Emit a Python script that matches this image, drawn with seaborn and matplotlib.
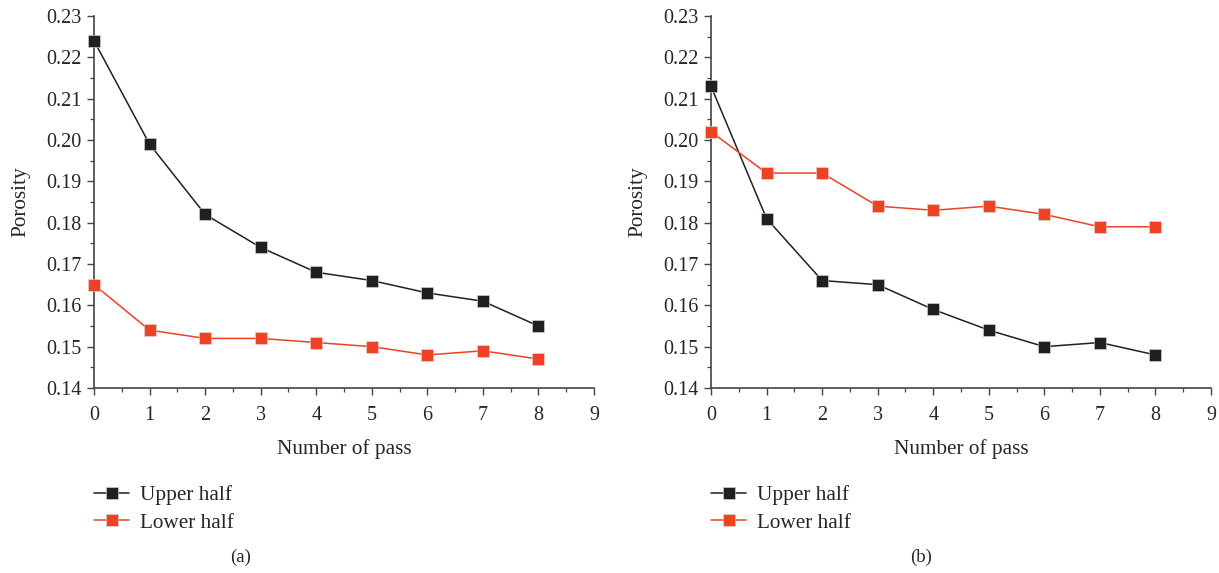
import numpy as np
import pandas as pd
import matplotlib
matplotlib.use("Agg")
import matplotlib.pyplot as plt
from matplotlib.ticker import MultipleLocator
import seaborn as sns

# Porosity after each pass, for the two samples
passes = [0, 1, 2, 3, 4, 5, 6, 7, 8]
upper_a = [0.224, 0.199, 0.182, 0.174, 0.168, 0.166, 0.163, 0.161, 0.155]
lower_a = [0.165, 0.154, 0.152, 0.152, 0.151, 0.150, 0.148, 0.149, 0.147]
upper_b = [0.213, 0.181, 0.166, 0.165, 0.159, 0.154, 0.150, 0.151, 0.148]
lower_b = [0.202, 0.192, 0.192, 0.184, 0.183, 0.184, 0.182, 0.179, 0.179]

series_names = ["Upper half", "Lower half"]
panel_labels = ["(a)", "(b)"]
y_ticks = [0.14, 0.15, 0.16, 0.17, 0.18, 0.19, 0.20, 0.21, 0.22, 0.23]
x_ticks = [0, 1, 2, 3, 4, 5, 6, 7, 8, 9]

sns.set_style("ticks")
plt.rcParams["font.family"] = ["Liberation Serif", "DejaVu Serif"]
plt.rcParams["font.size"] = 14.5

palette = {"Upper half": "#231f20", "Lower half": "#ef4123"}

fig = plt.figure(figsize=(12.19, 5.73), dpi=100)
W, H = 1219, 573
panels = [
    (94, upper_a, lower_a, 241),
    (711, upper_b, lower_b, 921),
]

for (left_px, up, low, cap_x), cap in zip(panels, panel_labels):
    ax = fig.add_axes([left_px / W, 1 - 388 / H, 500 / W, 372 / H])
    df = pd.DataFrame({
        "pass": passes * 2,
        "porosity": up + low,
        "half": [series_names[0]] * len(passes) + [series_names[1]] * len(passes),
    })
    sns.lineplot(data=df, x="pass", y="porosity", hue="half", palette=palette,
                 marker="s", markersize=8, markeredgewidth=0.4,
                 markeredgecolor="#dddddd", linewidth=1.1, ax=ax,
                 clip_on=False, zorder=3)
    ax.set_xlim(0, 9)
    ax.set_ylim(0.14, 0.23)
    ax.set_xticks(x_ticks)
    ax.set_yticks(y_ticks)
    ax.set_yticklabels([f"{v:.2f}" for v in y_ticks])
    ax.xaxis.set_minor_locator(MultipleLocator(0.5))
    ax.yaxis.set_minor_locator(MultipleLocator(0.005))
    ax.tick_params(which="major", direction="out", length=5, width=1.0,
                   color="#444444", labelsize=14.5, pad=4)
    ax.tick_params(which="minor", direction="out", length=3, width=0.9,
                   color="#444444")
    ax.tick_params(axis="x", which="major", pad=8)
    for s in ["top", "right"]:
        ax.spines[s].set_visible(False)
    for s in ["left", "bottom"]:
        ax.spines[s].set_linewidth(1.2)
        ax.spines[s].set_color("#444444")
    ax.set_xlabel("Number of pass", fontsize=15.3, labelpad=10)
    ax.set_ylabel("Porosity", fontsize=15.3, labelpad=11)
    ax.legend(title=None, frameon=False, loc="upper left",
              bbox_to_anchor=(0.0, -0.262), fontsize=15.3,
              handlelength=1.65, handletextpad=0.5, labelspacing=0.35,
              borderaxespad=0, borderpad=0)
    fig.text(cap_x / W, 1 - 557 / H, cap, ha="center", va="center", fontsize=13.5)

fig.savefig("out.png", dpi=100)
